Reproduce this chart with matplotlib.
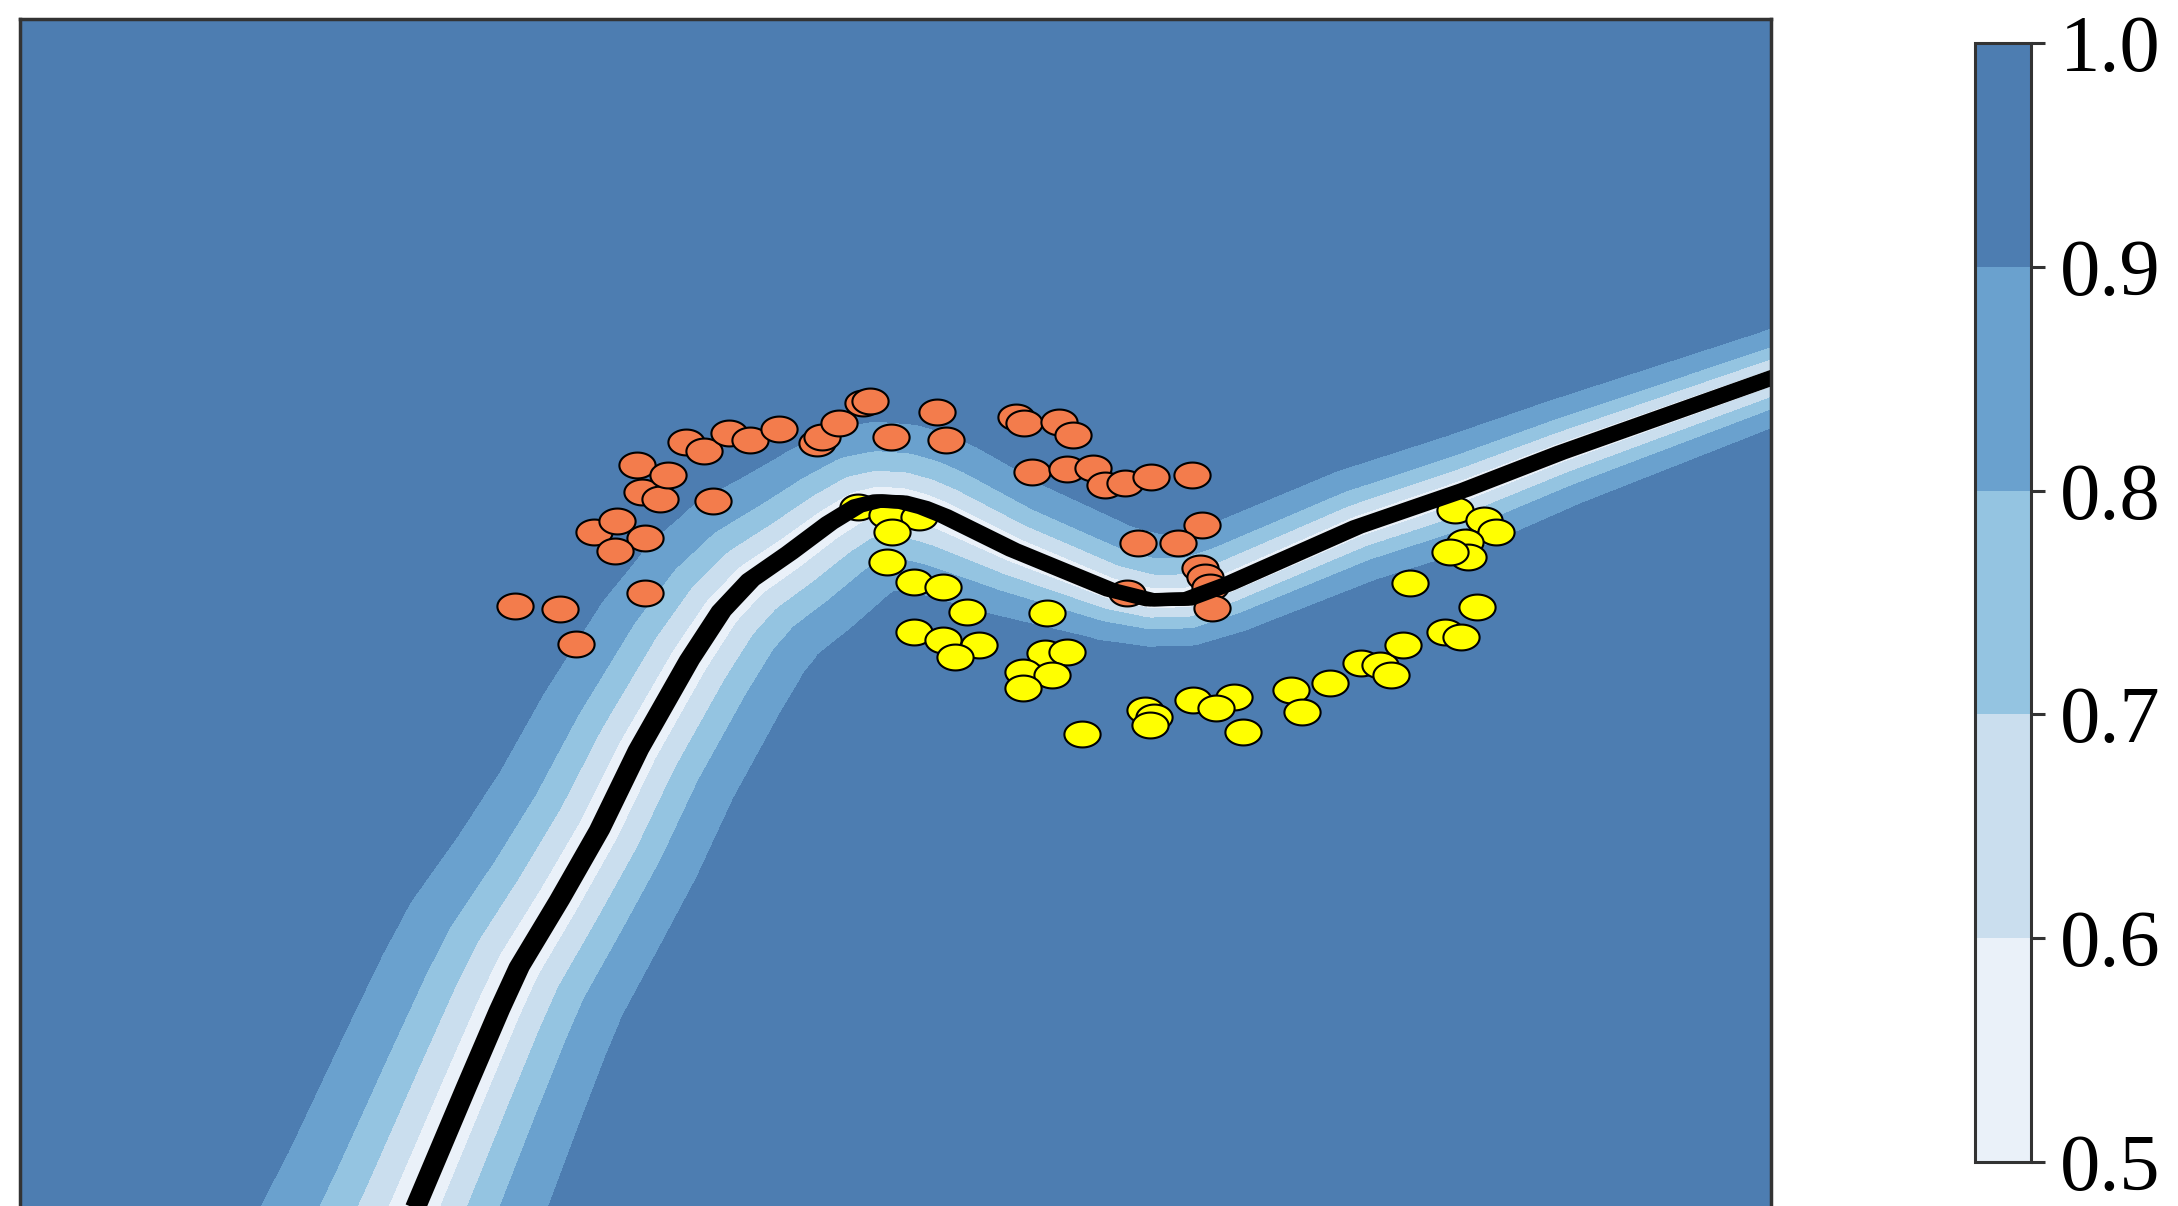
import numpy as np
import matplotlib
matplotlib.use("Agg")
import matplotlib.pyplot as plt
from matplotlib.colors import ListedColormap, BoundaryNorm
from matplotlib.path import Path
from matplotlib.transforms import offset_copy

# two-moons samples: class 0 (upper moon) and class 1 (lower moon)
moon0_x = [-0.994, -0.865, -0.821, -0.622, -0.767, -0.703, -0.622, -0.706, -0.631,
           -0.579, -0.643, -0.556, -0.424, -0.504, -0.452, -0.378, -0.320, -0.236,
           -0.127, -0.112, -0.063, 0.006, 0.026, 0.086, 0.219, 0.245, 0.447, 0.470,
           0.571, 0.611, 0.493, 0.594, 0.669, 0.703, 0.761, 0.836, 0.954, 0.983,
           0.798, 0.914, 0.977, 0.991, 1.006, 1.012, 0.767]
moon0_y = [0.000, -0.015, -0.187, 0.064, 0.365, 0.419, 0.335, 0.271, 0.562,
           0.527, 0.695, 0.645, 0.517, 0.808, 0.764, 0.852, 0.818, 0.872,
           0.803, 0.833, 0.901, 1.000, 1.010, 0.833, 0.956, 0.818, 0.931, 0.901,
           0.906, 0.842, 0.660, 0.675, 0.680, 0.596, 0.606, 0.635, 0.645, 0.399,
           0.310, 0.310, 0.187, 0.143, 0.094, -0.010, 0.064]
moon1_x = [-0.009, 0.075, 0.167, 0.089, 0.075, 0.153, 0.236, 0.305, 0.536, 0.153,
           0.236, 0.340, 0.271, 0.530, 0.594, 0.467, 0.550, 0.467, 0.637, 0.818,
           0.844, 0.833, 0.957, 1.075, 1.023, 1.101, 1.239, 1.271, 1.352, 1.441,
           1.496, 1.527, 1.562, 1.683, 1.729, 1.775, 1.582, 1.712, 1.795, 1.830,
           1.738, 1.749, 1.697]
moon1_y = [0.488, 0.448, 0.438, 0.365, 0.217, 0.118, 0.094, -0.030, -0.034, -0.128,
           -0.167, -0.192, -0.251, -0.232, -0.227, -0.325, -0.340, -0.404, -0.631, -0.512,
           -0.547, -0.586, -0.463, -0.448, -0.502, -0.621, -0.414, -0.522, -0.379, -0.281,
           -0.291, -0.340, -0.192, -0.128, -0.153, -0.005, 0.113, 0.473, 0.424, 0.365,
           0.315, 0.241, 0.266]

# decision boundary of the classifier (p = 0.5)
boundary_x = [-1.346, -1.280, -1.135, -1.040, -0.983, -0.867, -0.752, -0.640, -0.493,
              -0.401, -0.317, -0.205, -0.090, -0.010, 0.049, 0.120, 0.180, 0.240,
              0.438, 0.718, 0.833, 0.942, 1.058, 1.429, 1.738, 2.014, 2.622, 2.850]
boundary_y = [-3.222, -2.956, -2.369, -1.990, -1.778, -1.448, -1.103, -0.709, -0.266,
              -0.025, 0.128, 0.261, 0.408, 0.492, 0.517, 0.511, 0.484, 0.443,
              0.276, 0.079, 0.030, 0.034, 0.108, 0.389, 0.571, 0.754, 1.123, 1.261]
# how quickly confidence saturates away from the boundary (x units),
# on the class-0 side and on the class-1 side
width_side0 = [0.188, 0.182, 0.175, 0.170, 0.166, 0.158, 0.152, 0.145, 0.138,
               0.130, 0.124, 0.118, 0.110, 0.106, 0.104, 0.103, 0.102, 0.100,
               0.094, 0.088, 0.087, 0.085, 0.082, 0.078, 0.075, 0.070, 0.062, 0.062]
width_side1 = [0.168, 0.163, 0.156, 0.152, 0.150, 0.145, 0.142, 0.140, 0.138,
               0.135, 0.132, 0.128, 0.123, 0.120, 0.119, 0.118, 0.116, 0.110,
               0.090, 0.068, 0.062, 0.062, 0.066, 0.074, 0.078, 0.072, 0.062, 0.062]

levels = [0.5, 0.6, 0.7, 0.8, 0.9, 1.0]
tick_labels = ["0.5", "0.6", "0.7", "0.8", "0.9", "1.0"]
band_colors = ["#eaf1f9", "#cadeee", "#94c4e1", "#6aa1ce", "#4d7db1"]

xlim = (-2.42, 2.62)
ylim = (-3.0, 2.89)

fig = plt.figure(figsize=(21.78, 12.06), dpi=100)
ax = fig.add_axes([0.0092, -0.0075, 0.8039, 0.9917])
ax.set_xlim(*xlim)
ax.set_ylim(*ylim)

# confidence field: max class probability, a sigmoid of the on-screen
# distance to the boundary
gx = np.linspace(xlim[0], xlim[1], 420)
gy = np.linspace(ylim[0], ylim[1], 300)
XX, YY = np.meshgrid(gx, gy)
grid = np.column_stack([XX.ravel(), YY.ravel()])
pts = ax.transData.transform(grid)
verts = ax.transData.transform(np.column_stack([boundary_x, boundary_y]))
o = ax.transData.transform([(0, 0), (1, 0)])
px_per_x = o[1, 0] - o[0, 0]

# which side of the boundary each grid point lies on
side0_poly = Path(np.vstack([np.column_stack([boundary_x, boundary_y]),
                             [[boundary_x[-1], 10], [-10, 10], [-10, boundary_y[0]]]]))
on_side0 = side0_poly.contains_points(grid)
w0 = np.asarray(width_side0) * px_per_x
w1 = np.asarray(width_side1) * px_per_x
wv = np.where(on_side0[:, None], w0[None, :], w1[None, :])

best = np.full(len(pts), np.inf)
width = np.ones(len(pts))
for i in range(len(verts) - 1):
    a, b = verts[i], verts[i + 1]
    ab = b - a
    t = np.clip(((pts - a) @ ab) / (ab @ ab), 0, 1)
    d = np.hypot(*(pts - (a + t[:, None] * ab)).T)
    closer = d < best
    best[closer] = d[closer]
    width[closer] = (wv[:, i] + t * (wv[:, i + 1] - wv[:, i]))[closer]
conf = (1 / (1 + np.exp(-best / width))).reshape(XX.shape)

cmap = ListedColormap(band_colors)
norm = BoundaryNorm(levels, cmap.N)
cs = ax.contourf(XX, YY, conf, levels=levels, cmap=cmap, norm=norm)

# slightly wide oval markers
th = np.linspace(0, 2 * np.pi, 65)
oval = Path(np.column_stack([1.4 * np.cos(th), np.sin(th)]), closed=True)
ax.scatter(moon0_x, moon0_y, s=680, marker=oval, c="#f37c4c",
           edgecolors="black", linewidths=1.5, zorder=3)
ax.scatter(moon1_x, moon1_y, s=680, marker=oval, c="#ffff00",
           edgecolors="black", linewidths=1.5, zorder=3)

# boundary stroke, a little fatter horizontally
for dx in (-4, 0, 4):
    tr = offset_copy(ax.transData, fig=fig, x=dx, y=0, units="dots")
    ax.plot(boundary_x, boundary_y, color="black", lw=9.5, transform=tr,
            solid_joinstyle="round", solid_capstyle="butt", zorder=4)

ax.set_xlim(*xlim)
ax.set_ylim(*ylim)
ax.set_xticks([])
ax.set_yticks([])
for sp in ax.spines.values():
    sp.set_linewidth(2.5)
    sp.set_edgecolor("#333333")
    sp.set_zorder(5)

cax = fig.add_axes([0.9068, 0.0365, 0.0257, 0.9279])
cb = fig.colorbar(cs, cax=cax, ticks=levels)
cb.ax.set_yticklabels(tick_labels, fontfamily="Liberation Serif", fontsize=58)
cb.outline.set_linewidth(2.2)
cb.outline.set_edgecolor("#333333")
cb.ax.tick_params(length=10, width=2.2, color="#333333", pad=11)

fig.savefig("out.png", dpi=100)
